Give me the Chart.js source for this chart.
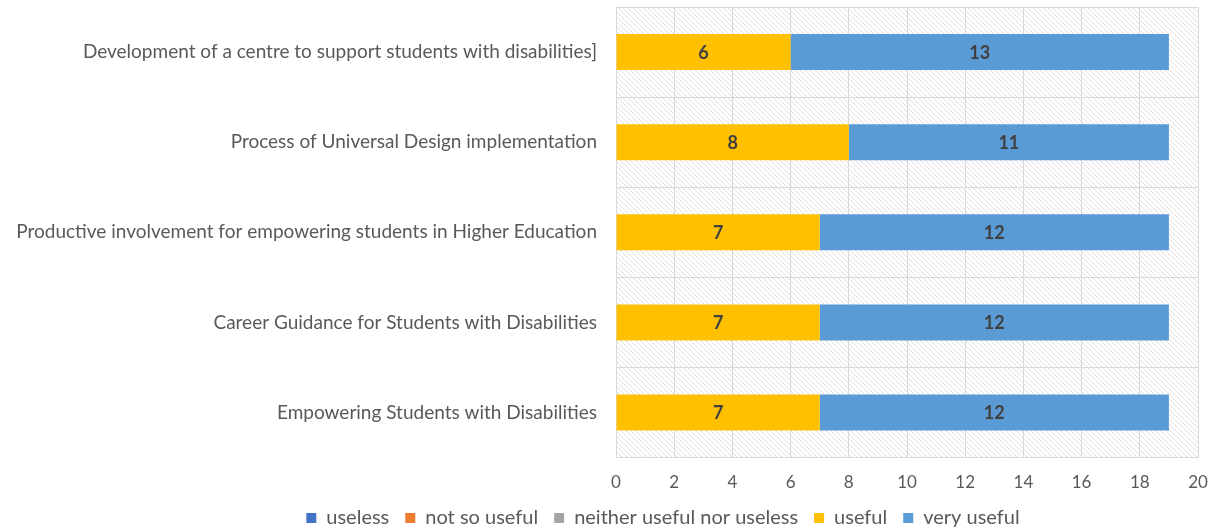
<!DOCTYPE html>
<html>
<head>
<meta charset="utf-8">
<script src="https://cdn.jsdelivr.net/npm/chart.js@4.4.1/dist/chart.umd.min.js"></script>
<style>
  html, body { margin: 0; padding: 0; background: #fff; }
  #wrap { width: 1215px; height: 529px; position: relative; }
</style>
</head>
<body>
<div id="wrap"><canvas id="chart"></canvas></div>
<script>
const topics = [
  "Development of a centre to support students with disabilities]",
  "Process of Universal Design implementation",
  "Productive involvement for empowering students in Higher Education",
  "Career Guidance for Students with Disabilities",
  "Empowering Students with Disabilities",
];
const useless = [0, 0, 0, 0, 0];
const notSoUseful = [0, 0, 0, 0, 0];
const neither = [0, 0, 0, 0, 0];
const useful = [6, 8, 7, 7, 7];
const veryUseful = [13, 11, 12, 12, 12];
const xTicks = [0, 2, 4, 6, 8, 10, 12, 14, 16, 18, 20];

const FONT = "Lato, 'Open Sans', sans-serif";
const TEXT = "#595959";

// diagonal hatch used behind the bars
const makeHatch = (ctx) => {
  const c = document.createElement("canvas");
  c.width = 5;
  c.height = 5;
  const p = c.getContext("2d");
  p.fillStyle = "#ffffff";
  p.fillRect(0, 0, 5, 5);
  p.strokeStyle = "#dedede";
  p.lineWidth = 1;
  p.beginPath();
  p.moveTo(-1, -1);
  p.lineTo(6, 6);
  p.moveTo(-1, 4);
  p.lineTo(1, 6);
  p.moveTo(4, -1);
  p.lineTo(6, 1);
  p.stroke();
  return ctx.createPattern(c, "repeat");
};

const hatchBackground = {
  id: "hatchBackground",
  beforeDraw(chart) {
    const { ctx, chartArea: a } = chart;
    ctx.save();
    ctx.fillStyle = makeHatch(ctx);
    ctx.fillRect(a.left, a.top, a.right - a.left, a.bottom - a.top);
    ctx.restore();
  },
};

// nudge the legend so it sits under the plot rather than the page
const legendShift = {
  id: "legendShift",
  afterLayout(chart) {
    const lg = chart.legend;
    lg.left += 64;
    lg.right += 64;
    lg.top -= 16;
    lg.bottom -= 16;
  },
};

const barValues = {
  id: "barValues",
  afterDatasetsDraw(chart) {
    const { ctx } = chart;
    ctx.save();
    ctx.font = "bold 18px " + FONT;
    ctx.fillStyle = "#404040";
    ctx.textAlign = "center";
    ctx.textBaseline = "middle";
    chart.data.datasets.forEach((ds, i) => {
      const meta = chart.getDatasetMeta(i);
      meta.data.forEach((bar, j) => {
        const v = ds.data[j];
        if (!v) return;
        const x = (bar.x + bar.base) / 2;
        ctx.fillText(String(v), x, bar.y + 1);
      });
    });
    ctx.restore();
  },
};

const series = [
  { label: "useless", data: useless, color: "#4472C4" },
  { label: "not so useful", data: notSoUseful, color: "#ED7D31" },
  { label: "neither useful nor useless", data: neither, color: "#A5A5A5" },
  { label: "useful", data: useful, color: "#FFC000" },
  { label: "very useful", data: veryUseful, color: "#5B9BD5" },
];

new Chart(document.querySelector("#chart"), {
  type: "bar",
  data: {
    labels: topics,
    datasets: series.map((s) => ({
      label: s.label,
      data: s.data,
      backgroundColor: s.color,
      borderWidth: 0,
      barPercentage: 0.4,
      categoryPercentage: 1,
    })),
  },
  options: {
    indexAxis: "y",
    responsive: true,
    maintainAspectRatio: false,
    animation: false,
    layout: { padding: { top: 7, right: 17, bottom: -25, left: 0 } },
    scales: {
      x: {
        stacked: true,
        min: 0,
        max: 20,
        afterBuildTicks: (scale) => {
          scale.ticks = xTicks.map((v) => ({ value: v }));
        },
        afterFit: (scale) => {
          scale.paddingLeft = 0;
          scale.paddingRight = 0;
        },
        grid: { color: "#d9d9d9", lineWidth: 1, drawTicks: false },
        border: { display: false },
        ticks: { color: TEXT, font: { family: FONT, size: 17 }, padding: 15 },
      },
      y: {
        stacked: true,
        afterFit: (scale) => {
          scale.width = 616;
          scale.paddingTop = 0;
          scale.paddingBottom = 0;
        },
        grid: { color: "#d9d9d9", lineWidth: 1, offset: true, drawTicks: false },
        border: { color: "#d9d9d9" },
        ticks: { color: TEXT, font: { family: FONT, size: 19 }, padding: 19 },
      },
    },
    plugins: {
      legend: {
        position: "bottom",
        labels: {
          color: TEXT,
          font: { family: FONT, size: 20 },
          boxWidth: 10,
          boxHeight: 10,
          padding: 16,
        },
      },
      tooltip: { enabled: false },
    },
  },
  plugins: [hatchBackground, legendShift, barValues],
});
</script>
</body>
</html>
